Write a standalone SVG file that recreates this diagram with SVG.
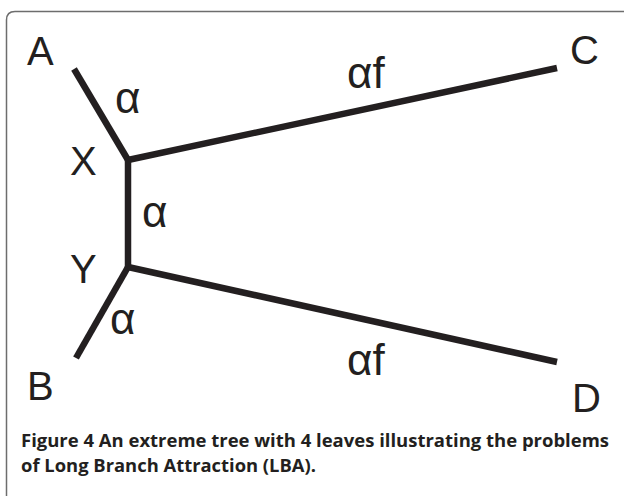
<svg xmlns="http://www.w3.org/2000/svg" width="624" height="496" viewBox="0 0 624 496">
<style>
.lbl{font-family:"Liberation Sans",Arial,sans-serif;font-size:40px;fill:#231f20}
.al{font-family:"Liberation Sans",Arial,sans-serif;font-size:44px;fill:#231f20}
.br{stroke:#231f20;stroke-width:6.5;fill:none;stroke-linecap:butt;stroke-linejoin:miter}
.cap{font-family:"Open Sans","Noto Sans",sans-serif;font-size:17px;font-weight:bold;fill:#231f20}
</style>
<rect x="0" y="0" width="624" height="496" fill="#ffffff"/>
<path d="M6.5 496 V20 Q6.5 11.5 15 11.5 H624" fill="none" stroke="#6d6d6d" stroke-width="1.5"/>
<g id="connectors">
<path class="br" d="M74 69 L128 160"/>
<path class="br" d="M128 160 L557 68"/>
<path class="br" d="M128 157 L128 270"/>
<path class="br" d="M128 267 L76 358"/>
<path class="br" d="M128 267 L557 362"/>
</g>
<g id="A"><text class="lbl" x="27" y="65">A</text></g>
<g id="C"><text class="lbl" x="570" y="64">C</text></g>
<g id="X"><text class="lbl" x="70" y="175">X</text></g>
<g id="Y"><text class="lbl" x="70" y="283">Y</text></g>
<g id="B"><text class="lbl" x="27" y="400">B</text></g>
<g id="D"><text class="lbl" x="572" y="412">D</text></g>
<g id="labels">
<text class="al" x="115" y="113">α</text>
<text class="al" x="142" y="227">α</text>
<text class="al" x="110" y="334">α</text>
<text class="al" x="347" y="88">αf</text>
<text class="al" x="347" y="375">αf</text>
</g>
<g id="caption">
<text class="cap" x="21" y="447" textLength="588" lengthAdjust="spacingAndGlyphs"><tspan>Figure 4</tspan> An extreme tree with 4 leaves illustrating the problems</text>
<text class="cap" x="21" y="472" textLength="295" lengthAdjust="spacingAndGlyphs">of Long Branch Attraction (LBA).</text>
</g>
</svg>
